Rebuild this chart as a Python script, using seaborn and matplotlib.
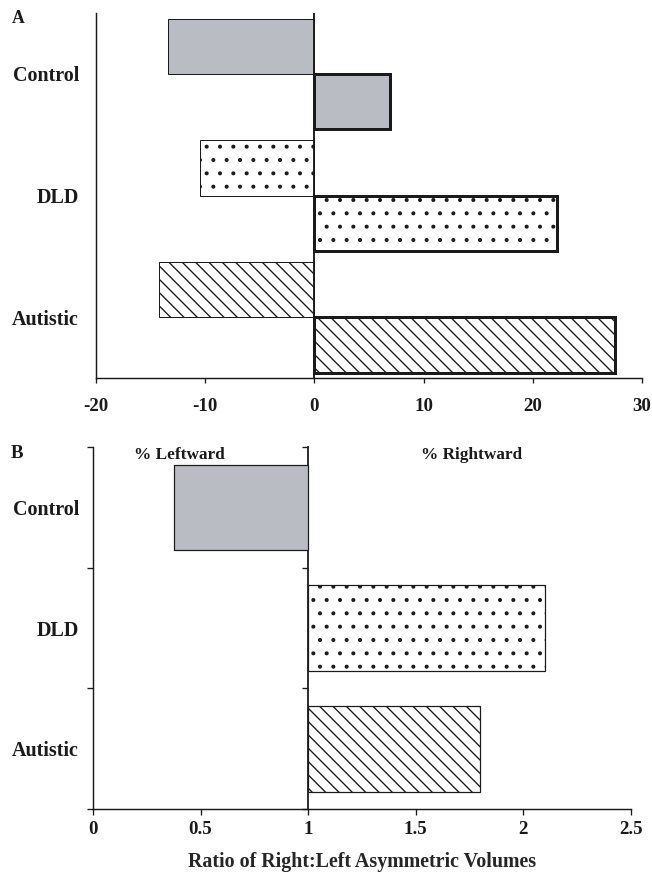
import numpy as np
import pandas as pd
import seaborn as sns
import matplotlib.pyplot as plt
from matplotlib.ticker import FuncFormatter

# valores
groups = ["Control", "DLD", "Autistic"]
sides = ["Leftward", "Rightward"]
leftward_pct = [-13.4, -10.5, -14.2]
rightward_pct = [6.9, 22.2, 27.5]
ratio_right_left = [0.375, 2.10, 1.80]

xticks_a = [-20, -10, 0, 10, 20, 30]
xticks_b = [0, 0.5, 1, 1.5, 2, 2.5]

fills = ["#b9bcc3", "white", "white"]
hatches = ["", ".", "\\\\"]

sns.set_theme(style="ticks")
plt.rcParams["font.family"] = ["Liberation Serif", "DejaVu Serif"]
plt.rcParams["font.weight"] = "bold"
plt.rcParams["axes.unicode_minus"] = False
plt.rcParams["hatch.linewidth"] = 1.2
plt.rcParams["axes.edgecolor"] = "#1a1a1a"
plt.rcParams["axes.linewidth"] = 1.3
plt.rcParams["xtick.color"] = "#1a1a1a"
plt.rcParams["ytick.color"] = "#1a1a1a"
plt.rcParams["text.color"] = "#1a1a1a"

DPI = 80
fig = plt.figure(figsize=(652 / DPI, 881 / DPI), dpi=DPI)
axA = fig.add_axes([0.1472, 0.5709, 0.8374, 0.4143])
axB = fig.add_axes([0.1426, 0.0817, 0.8252, 0.4109])


def style_bar(bar, lw):
    g = int(round(bar.get_y() + bar.get_height() / 2))
    bar.set_facecolor(fills[g])
    bar.set_hatch(hatches[g])
    bar.set_edgecolor("#1a1a1a")
    bar.set_linewidth(lw)


# ---- painel A: % leftward / % rightward
dfA = pd.DataFrame({
    "group": groups * 2,
    "side": [sides[0]] * 3 + [sides[1]] * 3,
    "pct": leftward_pct + rightward_pct,
})
sns.barplot(data=dfA, x="pct", y="group", hue="side", order=groups,
            hue_order=sides, width=0.91, errorbar=None, legend=False, ax=axA)
for c_i, cont in enumerate(axA.containers):
    for bar in cont:
        style_bar(bar, 0.9 if c_i == 0 else 2.7)

axA.axvline(0, color="#1a1a1a", lw=1.7, zorder=5)
axA.set_xlim(-20, 30)
axA.set_xticks(xticks_a)
axA.set_xticklabels([str(t) for t in xticks_a])
axA.set_xlabel("")
axA.set_ylabel("")
for s in ["top", "right"]:
    axA.spines[s].set_visible(False)
axA.tick_params(axis="x", length=4.5, width=1.2, pad=13.5, labelsize=17)
axA.tick_params(axis="y", length=0, pad=15.3, labelsize=18)

# ---- painel B: razão direita:esquerda (barras partem de 1)
dfB = pd.DataFrame({"group": groups, "dev": np.array(ratio_right_left) - 1})
sns.barplot(data=dfB, x="dev", y="group", order=groups, width=0.71,
            errorbar=None, ax=axB)
for bar in axB.patches:
    style_bar(bar, 1.1)

axB.set_xlim(-1, 1.5)
axB.set_xticks(np.array(xticks_b) - 1)
axB.xaxis.set_major_formatter(FuncFormatter(lambda v, _: f"{v + 1:g}"))
axB.set_ylabel("")
axB.set_xlabel("Ratio of Right:Left Asymmetric Volumes", fontsize=18,
               fontweight="bold", labelpad=12.5)
for s in ["top", "right"]:
    axB.spines[s].set_visible(False)
bounds = [-0.5, 0.5, 1.5, 2.5]
axB.set_yticks(bounds, minor=True)
axB.tick_params(axis="x", length=5.5, width=1.2, pad=5.5, labelsize=17)
axB.tick_params(axis="y", which="major", length=0, pad=12.6, labelsize=18)
axB.tick_params(axis="y", which="minor", length=5.5, width=1.2)

sec = axB.secondary_yaxis(1 / 2.5)
sec.set_yticks(bounds, labels=[""] * len(bounds))
sec.tick_params(axis="y", length=5.5, width=1.2, direction="out")
for sp in sec.spines.values():
    sp.set_linewidth(1.6)

trB = axB.get_xaxis_transform()
axB.text(0.40 - 1, 0.967, "% Leftward", transform=trB, ha="center",
         va="baseline", fontsize=15.5, fontweight="bold")
axB.text(1.76 - 1, 0.967, "% Rightward", transform=trB, ha="center",
         va="baseline", fontsize=15.5, fontweight="bold")

fig.text(0.018, 1 - 23 / 881, "A", fontsize=16, fontweight="bold", va="baseline")
fig.text(0.016, 1 - 458 / 881, "B", fontsize=17, fontweight="bold", va="baseline")

fig.savefig("out.png", dpi=DPI)
plt.close(fig)
